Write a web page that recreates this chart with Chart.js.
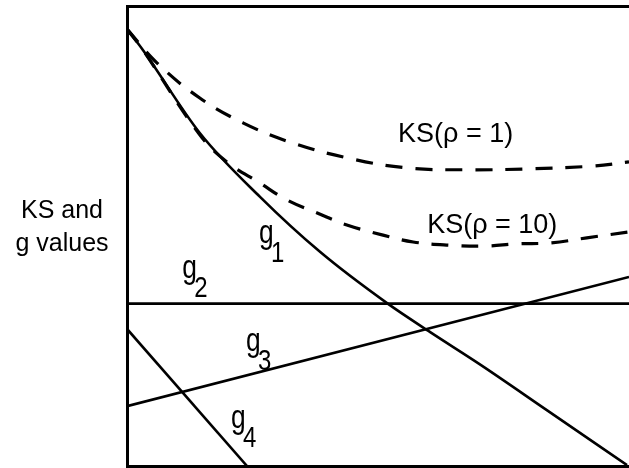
<!DOCTYPE html>
<html>
<head>
<meta charset="utf-8">
<script src="https://cdn.jsdelivr.net/npm/chart.js@4/dist/chart.umd.min.js"></script>
<style>
html,body{margin:0;padding:0;background:#fff;}
#wrap{width:629px;height:468px;}
</style>
</head>
<body>
<div id="wrap"><canvas id="c" width="629" height="468"></canvas></div>
<script>
// ---- data (design-variable axis 0..100, value axis 0..100) ----
const g1X  = [0, 3.2, 14.5, 26.5, 38.5, 51.8, 60.4, 70.3, 83.7, 99.6];
const g1Y  = [95.0, 90.4, 72.4, 58.5, 46.5, 35.4, 29.1, 22.1, 12.1, 0.2];
const g2X  = [0, 100];
const g2Y  = [35.3, 35.3];
const g3X  = [0, 100];
const g3Y  = [13.0, 41.1];
const g4X  = [0, 23.9];
const g4Y  = [29.8, 0];
const ks1X = [0, 6.0, 14.5, 23.1, 32.5, 43.8, 55.8, 67.7, 80.3, 92.8, 100];
const ks1Y = [95.0, 87.6, 80.0, 74.6, 70.4, 67.0, 64.8, 64.4, 64.6, 65.2, 66.1];
const ks10X = [0, 3.2, 14.5, 19.9, 26.5, 31.9, 37.9, 43.8, 51.0, 57.0, 64.3, 71.3, 77.7, 84.3, 91.6, 100];
const ks10Y = [95.0, 90.4, 72.0, 66.1, 61.5, 57.8, 55.0, 52.4, 50.2, 48.7, 48.0, 47.8, 48.3, 48.5, 49.6, 50.9];
const curveNames = ['g1', 'g2', 'g3', 'g4', 'KS(ρ = 1)', 'KS(ρ = 10)'];
const axisTitle = ['KS and', 'g values'];

const pts = (xs, ys) => xs.map((x, i) => ({x: x, y: ys[i]}));

const solid = {borderColor: '#000', borderWidth: 2.6, pointRadius: 0, fill: false};
const dashed = {borderColor: '#000', borderWidth: 3.2, pointRadius: 0, fill: false, borderDash: [17, 13]};

const labelPlugin = {
  id: 'labels',
  afterDatasetsDraw(chart) {
    const ctx = chart.ctx;
    const xs = chart.scales.x, ys = chart.scales.y;
    const P = (u, v) => [xs.getPixelForValue(u), ys.getPixelForValue(v)];
    ctx.save();
    ctx.fillStyle = '#000';
    ctx.textBaseline = 'alphabetic';
    // g labels with subscripts
    const gl = [
      {name: curveNames[0], u: 26.3, v: 48.5},
      {name: curveNames[1], u: 11.0, v: 40.9},
      {name: curveNames[2], u: 23.7, v: 25.0},
      {name: curveNames[3], u: 20.7, v: 8.3}
    ];
    gl.forEach(l => {
      const [px, py] = P(l.u, l.v);
      ctx.save();
      ctx.translate(px, py);
      ctx.scale(0.8, 1);
      ctx.font = '33px "Liberation Sans", Arial, sans-serif';
      ctx.textAlign = 'left';
      ctx.fillText(l.name[0], 0, 0);
      ctx.font = '30px "Liberation Sans", Arial, sans-serif';
      ctx.fillText(l.name.slice(1), 15, 19);
      ctx.restore();
    });
    // KS labels
    ctx.font = '27px "Liberation Sans", Arial, sans-serif';
    ctx.textAlign = 'left';
    let [a, b] = P(54.0, 70.4);
    ctx.fillText(curveNames[4], a, b);
    [a, b] = P(59.8, 50.6);
    ctx.fillText(curveNames[5], a, b);
    // axis title
    const ca = chart.chartArea;
    ctx.font = '25px "Liberation Sans", Arial, sans-serif';
    ctx.textAlign = 'center';
    const [, ty] = P(0, 53.9);
    ctx.fillText(axisTitle[0], ca.left - 65, ty);
    ctx.fillText(axisTitle[1], ca.left - 65, ty + 33);
    ctx.restore();
  }
};

new Chart(document.getElementById('c'), {
  type: 'line',
  data: {
    datasets: [
      Object.assign({label: curveNames[0], data: pts(g1X, g1Y), cubicInterpolationMode: 'monotone'}, solid),
      Object.assign({label: curveNames[1], data: pts(g2X, g2Y), tension: 0}, solid),
      Object.assign({label: curveNames[2], data: pts(g3X, g3Y), tension: 0}, solid),
      Object.assign({label: curveNames[3], data: pts(g4X, g4Y), tension: 0}, solid),
      Object.assign({label: curveNames[4], data: pts(ks1X, ks1Y), tension: 0.4}, dashed),
      Object.assign({label: curveNames[5], data: pts(ks10X, ks10Y), tension: 0.4}, dashed)
    ]
  },
  options: {
    responsive: false,
    animation: false,
    devicePixelRatio: 1,
    layout: {padding: {left: 127, top: 6, right: 0, bottom: 2}},
    plugins: {legend: {display: false}, tooltip: {enabled: false}},
    scales: {
      x: {type: 'linear', min: 0, max: 100, position: 'bottom',
          ticks: {display: false}, grid: {display: false, drawTicks: false},
          border: {display: true, color: '#000', width: 3}},
      xTop: {type: 'linear', min: 0, max: 100, position: 'top',
          ticks: {display: false}, grid: {display: false, drawTicks: false},
          border: {display: true, color: '#000', width: 3}},
      y: {type: 'linear', min: 0, max: 100,
          ticks: {display: false}, grid: {display: false, drawTicks: false},
          border: {display: true, color: '#000', width: 3}}
    }
  },
  plugins: [labelPlugin]
});
</script>
</body>
</html>
